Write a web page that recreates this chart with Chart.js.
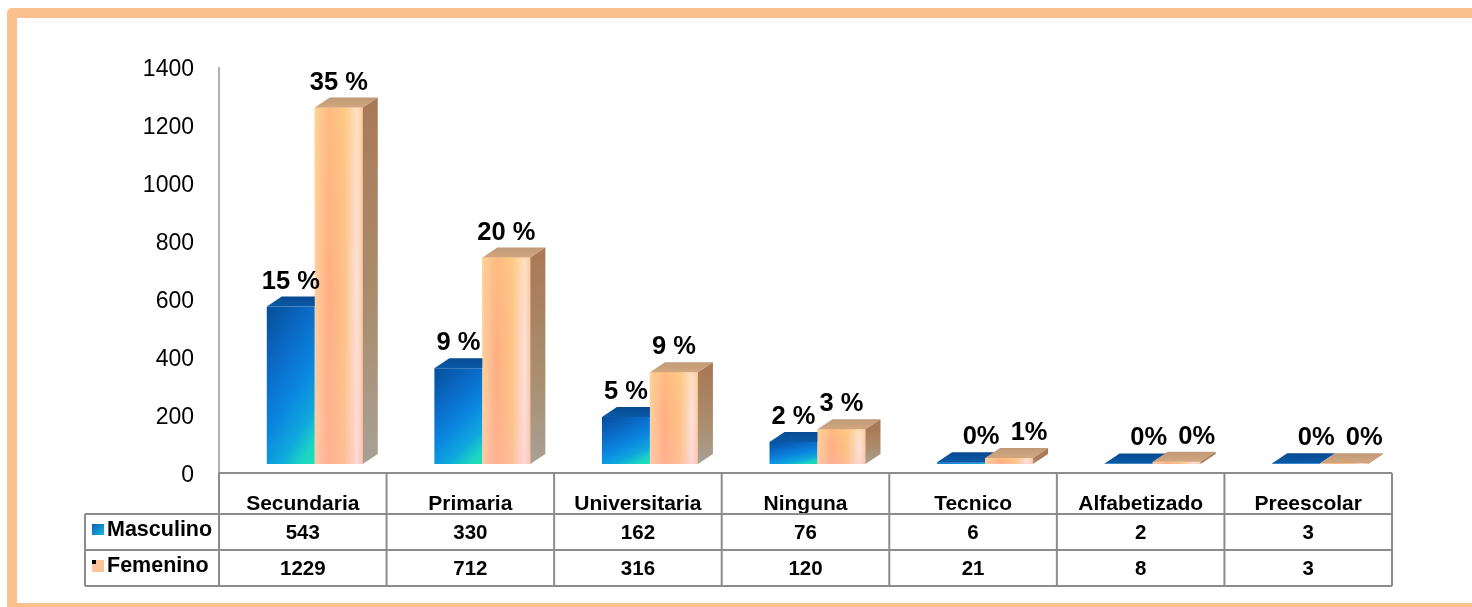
<!DOCTYPE html>
<html><head><meta charset="utf-8">
<style>html,body{margin:0;padding:0;background:#fff}#w{position:absolute;left:0;top:0;width:1472px;height:607px}</style>
<script src="https://cdn.jsdelivr.net/npm/chart.js@4/dist/chart.umd.min.js"></script>
</head><body><div id="w"><canvas id="c" width="1472" height="607"></canvas></div>
<script>
const categories = ['Secundaria','Primaria','Universitaria','Ninguna','Tecnico','Alfabetizado','Preescolar'];
const masculino = [543,330,162,76,6,2,3];
const femenino = [1229,712,316,120,21,8,3];
const masculinoPct = ['15 %','9 %','5 %','2 %','0%','0%','0%'];
const femeninoPct = ['35 %','20 %','9 %','3 %','1%','0%','0%'];
const yTicks = [0,200,400,600,800,1000,1200,1400];

const FONT = '"Liberation Sans", Arial, sans-serif';
const TICK_DROP = 3;
const SHIFT_X = 12, SHIFT_Y = -9 - TICK_DROP, DEPTH_X = 15, DEPTH_Y = 10;
const GRID = '#8c8c8c', TABLE_LEFT = 85, ROW_LINES = [514,550,586];

function faceFill(ctx, series){
  const fallback = series ? '#fdbd84' : '#0d7fd6';
  const c = ctx.chart.ctx, xs = ctx.chart.scales.x, ys = ctx.chart.scales.y;
  if(!xs || !ys || !ctx.parsed || ctx.dataIndex === undefined) return fallback;
  const cx = xs.getPixelForValue(ctx.dataIndex) + (series ? 24 : -24);
  const x0 = cx - 24, x1 = cx + 24;
  const yTop = ys.getPixelForValue(ctx.parsed.y), yBot = ys.getPixelForValue(0);
  if(![x0,x1,yTop,yBot].every(Number.isFinite)) return fallback;
  if(series === 0){
    const h = Math.max(yBot - yTop, 1);
    const a = .33/48, b = .67/h, n = a*a + b*b;
    const g = c.createLinearGradient(x0, yTop, x0 + a/n, yTop + b/n);
    g.addColorStop(0,'#064f98'); g.addColorStop(.28,'#0a68c4'); g.addColorStop(.55,'#0a86e0'); g.addColorStop(.76,'#10a8dc'); g.addColorStop(.9,'#1cd4c4'); g.addColorStop(1,'#1ce0b0');
    return g;
  }
  const g = c.createLinearGradient(x0, 0, x1, 0);
  g.addColorStop(0,'#fdd0a0'); g.addColorStop(.3,'#ffab80'); g.addColorStop(.62,'#fdc284'); g.addColorStop(.88,'#fde4e4'); g.addColorStop(1,'#fcc8a0');
  return g;
}

function drawTop(c, el, colours){
  const w = el.width, l = el.x - w/2, r = el.x + w/2, t = el.y;
  const top = c.createLinearGradient(l, t-DEPTH_Y, l, t);
  top.addColorStop(0,colours[0]); top.addColorStop(1,colours[1]);
  c.fillStyle = top;
  c.beginPath(); c.moveTo(l,t); c.lineTo(l+DEPTH_X,t-DEPTH_Y); c.lineTo(r+DEPTH_X,t-DEPTH_Y); c.lineTo(r,t); c.closePath(); c.fill();
}

const threeD = {
  id:'threeD',
  beforeDraw(chart){
    const c = chart.ctx;
    c.save(); c.fillStyle='#fff'; c.fillRect(0,0,1472,607);
    c.strokeStyle='#fcc08e'; c.lineWidth=10; c.lineJoin='round';
    c.strokeRect(12,13,1480,595);
    c.restore();
  },
  beforeDatasetsDraw(chart){ chart.ctx.save(); chart.ctx.translate(SHIFT_X, SHIFT_Y); },
  afterDatasetsDraw(chart){
    const c = chart.ctx;
    const m = chart.getDatasetMeta(0).data, f = chart.getDatasetMeta(1).data;
    m.forEach((el,k) => {
      drawTop(c, el, ['#084a90','#0a5aa8']);
      const fe = f[k];
      fe.draw(c);
      const w = fe.width, l = fe.x - w/2, r = fe.x + w/2, t = fe.y, b = fe.base;
      const tint = c.createLinearGradient(0,t,0,b);
      tint.addColorStop(0,'rgba(255,214,130,.35)'); tint.addColorStop(.5,'rgba(255,200,150,.1)'); tint.addColorStop(1,'rgba(255,185,190,.3)');
      c.fillStyle = tint; c.fillRect(l,t,w,b-t);
      drawTop(c, fe, ['#bf9a78','#d2a67e']);
      const side = c.createLinearGradient(0,t,0,b);
      side.addColorStop(0,'#aa7a58'); side.addColorStop(.6,'#a98f70'); side.addColorStop(1,'#a8a096');
      c.fillStyle = side;
      c.beginPath(); c.moveTo(r,t); c.lineTo(r+DEPTH_X,t-DEPTH_Y); c.lineTo(r+DEPTH_X,b-DEPTH_Y); c.lineTo(r,b); c.closePath(); c.fill();
    });
    c.restore();

    const xs = chart.scales.x, a = chart.chartArea;
    const axisTop = a.top - TICK_DROP, axisBottom = a.bottom - TICK_DROP;
    const step = xs.getPixelForValue(1) - xs.getPixelForValue(0);
    const columnLeft = k => xs.getPixelForValue(0) + (k - .5) * step;
    c.save();
    c.strokeStyle = '#b0b0b0'; c.lineWidth = 2;
    c.beginPath(); c.moveTo(a.left,axisTop); c.lineTo(a.left,axisBottom); c.stroke();
    c.strokeStyle = GRID;
    c.beginPath();
    c.moveTo(a.left,axisBottom); c.lineTo(a.right,axisBottom);
    for(let k=0;k<=categories.length;k++){ const x=columnLeft(k); c.moveTo(x,axisBottom); c.lineTo(x,ROW_LINES[2]); }
    c.moveTo(TABLE_LEFT,ROW_LINES[0]); c.lineTo(TABLE_LEFT,ROW_LINES[2]);
    ROW_LINES.forEach(y=>{ c.moveTo(TABLE_LEFT,y); c.lineTo(a.right,y); });
    c.stroke();
    c.textBaseline='middle'; c.fillStyle='#000';
    c.font='bold 20.5px '+FONT; c.textAlign='center';
    [masculino,femenino].forEach((arr,r)=>{
      arr.forEach((v,k)=>c.fillText(String(v), xs.getPixelForValue(k), r===0?533:569));
    });
    c.font='bold 21.5px '+FONT; c.textAlign='left';
    c.fillText(chart.data.datasets[0].label,107,530);
    c.fillText(chart.data.datasets[1].label,107,566);
    const k0=c.createLinearGradient(92,524,104,535); k0.addColorStop(0,'#0a5fb4'); k0.addColorStop(1,'#18b8e0');
    c.fillStyle=k0; c.fillRect(92,524,12,11);
    c.fillStyle='#fdc39a'; c.fillRect(92,560,12,12);
    c.fillStyle='#000'; c.fillRect(92,560,4,4);
    c.fillStyle='#000'; c.font='bold 25.5px '+FONT; c.textAlign='center';
    [[0,masculinoPct],[1,femeninoPct]].forEach(([d,lab])=>{
      chart.getDatasetMeta(d).data.forEach((el,k)=>{
        const v = chart.data.datasets[d].data[k];
        c.fillText(lab[k], el.x + SHIFT_X + (v < 50 ? 20 : 0), el.y + SHIFT_Y - 25);
      });
    });
    c.restore();
  }
};

new Chart(document.getElementById('c'),{
  type:'bar',
  data:{labels:categories,datasets:[
    {label:'Masculino',data:masculino,backgroundColor:ctx=>faceFill(ctx,0),borderWidth:0,barPercentage:1,categoryPercentage:96/167.6,clip:false},
    {label:'Femenino',data:femenino,backgroundColor:ctx=>faceFill(ctx,1),borderWidth:0,barPercentage:1,categoryPercentage:96/167.6,clip:false}
  ]},
  options:{
    responsive:false,animation:false,devicePixelRatio:1,
    layout:{padding:{top:67+TICK_DROP,right:80,left:0,bottom:0}},
    plugins:{legend:{display:false},tooltip:{enabled:false},title:{display:false}},
    scales:{
      x:{
        grid:{display:false,drawTicks:false},
        border:{display:false},
        ticks:{color:'#000',font:{family:FONT,size:21,weight:'bold'},padding:16,maxRotation:0,autoSkip:false},
        afterFit(s){ s.height = 607-473-TICK_DROP; }
      },
      y:{
        min:0,max:1400,
        afterBuildTicks(s){ s.ticks = yTicks.map(v=>({value:v})); },
        grid:{display:false,drawTicks:false},
        border:{display:false},
        ticks:{color:'#000',font:{family:FONT,size:23,weight:'normal'},padding:25,callback:v=>String(v)},
        afterFit(s){ s.width = 219; }
      }
    }
  },
  plugins:[threeD]
});
</script></body></html>
